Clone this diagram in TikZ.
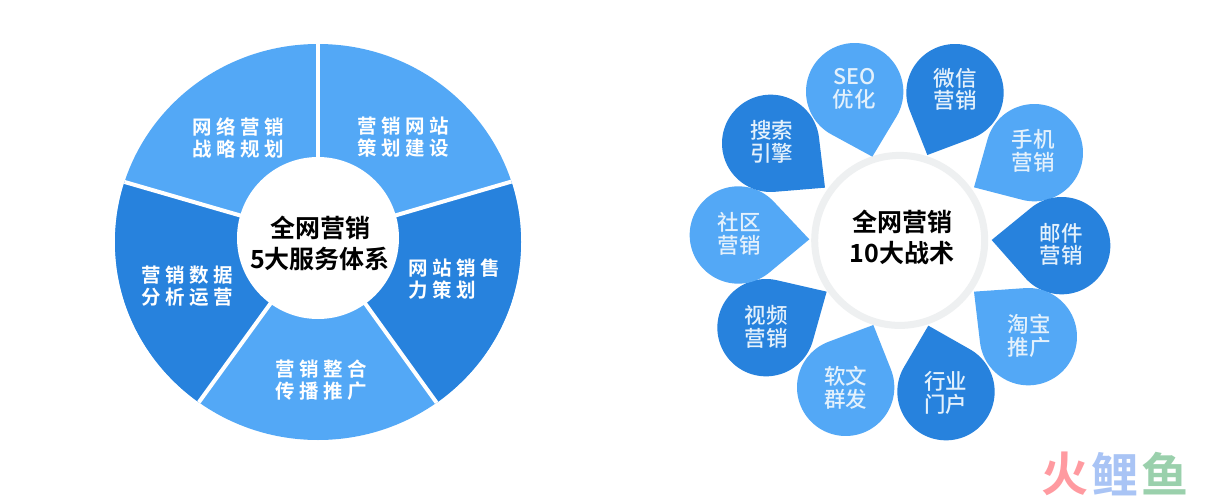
\documentclass[tikz,border=0pt]{standalone}
\usepackage{fontspec}
\setmainfont{Noto Sans CJK SC}[BoldFont={Noto Sans CJK SC Bold}]
\newfontfamily\spacedcjk{Noto Sans CJK SC Bold}[LetterSpace=23]
\newfontfamily\dropcjk{Noto Sans CJK SC Medium}
\definecolor{lightblue}{HTML}{53A8F6}
\definecolor{darkblue}{HTML}{2782DD}
\definecolor{ringgrey}{HTML}{EEF0F1}
\definecolor{palewhite}{HTML}{E4F1FC}
\definecolor{markred}{HTML}{FF9AA0}
\definecolor{markblue}{HTML}{A9C4F5}
\definecolor{markgreen}{HTML}{9AD0AC}
\tikzset{
  sectorlabel/.style={text=white,font=\spacedcjk\fontsize{19.5}{22}\selectfont,align=center,inner sep=0pt},
  sectorlabelleft/.style={sectorlabel,align=left},
  hubtext/.style={text=black,font=\bfseries\fontsize{25}{31}\selectfont,align=center,inner sep=0pt},
  droptext/.style={text=palewhite,font=\dropcjk\fontsize{21.5}{22.7}\selectfont,align=center,inner sep=0pt},
  marktext/.style={inner sep=0pt,font=\bfseries\fontsize{47}{47}\selectfont},
}
\newcommand{\dropshape}[6]{%
  \pgfmathsetmacro{\dang}{atan2(#5-#3,#4-#2)}
  \pgfmathsetmacro{\ddist}{veclen(#5-#3,#4-#2)}
  \pgfmathsetmacro{\dhalf}{acos(146/\ddist)}
  \pgfmathsetmacro{\dstart}{\dang+\dhalf}
  \pgfmathsetmacro{\dend}{\dang+360-\dhalf}
  \fill[#6] (#4,#5) -- plot[variable=\t,domain=\dstart:\dend,samples=80] ({#2+146*cos(\t)},{#3+146*sin(\t)}) -- cycle;
}
\begin{document}
\begin{tikzpicture}[x=1pt,y=-1pt]
\useasboundingbox (0,0) rectangle (1211,498);
\fill[white] (0,0) rectangle (1211,498);
% left wheel
\begin{scope}
  \clip (318,242) ellipse [x radius=203pt,y radius=198pt];
  \fill[lightblue] (100,0) rectangle (550,470);
  \fill[darkblue] (318,238) -- (606,154) -- (700,300) -- (493,481) -- cycle;
  \fill[darkblue] (318,238) -- (141,482) -- (-50,300) -- (28,154) -- cycle;
  \draw[white,line width=4pt] (318,238) -- (318,0);
  \draw[white,line width=4pt] (318,238) -- (606,154);
  \draw[white,line width=4pt] (318,238) -- (493,481);
  \draw[white,line width=4pt] (318,238) -- (141,482);
  \draw[white,line width=4pt] (318,238) -- (28,154);
\end{scope}
\fill[white] (318,238) circle [radius=81pt];
\node[hubtext] (hubL) at (320,243) {全网营销\\5大服务体系};
\node[sectorlabel] (s1) at (238.5,137.5) {网络营销\\战略规划};
\node[sectorlabel] (s2) at (403.5,137.5) {营销网站\\策划建设};
\node[sectorlabelleft,anchor=west] (s3) at (408,279) {网站销售\\力策划};
\node[sectorlabel] (s4) at (187.5,286) {营销数据\\分析运营};
\node[sectorlabel] (s5) at (321.5,380.5) {营销整合\\传播推广};
% right flower
\draw[ringgrey,fill=white,line width=7pt] (899.7,240.4) circle [radius=85pt];
\node[hubtext] (hubR) at (902,237) {全网营销\\10大战术};
\begin{scope}[shift={(680,30)},x=0.33333pt,y=-0.33333pt]
  \dropshape{d1}{524}{185}{577}{380}{lightblue}
  \dropshape{d2}{825}{188}{742}{375}{darkblue}
  \dropshape{d3}{1063}{368}{882}{472}{lightblue}
  \dropshape{d4}{1145}{647}{935}{630}{darkblue}
  \dropshape{d5}{1045}{920}{882}{785}{lightblue}
  \dropshape{d6}{798}{1085}{745}{887}{darkblue}
  \dropshape{d7}{497}{1072}{580}{885}{lightblue}
  \dropshape{d8}{258}{893}{440}{785}{darkblue}
  \dropshape{d9}{175}{615}{388}{628}{lightblue}
  \dropshape{d10}{272}{340}{435}{473}{darkblue}
  \node[droptext] (t1) at (523,176) {SEO\\优化};
  \node[droptext] (t2) at (825,178) {微信\\营销};
  \node[droptext] (t3) at (1060,363) {手机\\营销};
  \node[droptext] (t4) at (1143,643) {邮件\\营销};
  \node[droptext] (t5) at (1047,917) {淘宝\\推广};
  \node[droptext] (t6) at (797,1088) {行业\\门户};
  \node[droptext] (t7) at (497,1073) {软文\\群发};
  \node[droptext] (t8) at (258,891) {视频\\营销};
  \node[droptext] (t9) at (177,611) {社区\\营销};
  \node[droptext] (t10) at (275,336) {搜索\\引擎};
\end{scope}
% watermark
\node[marktext,text=markred] (w1) at (1065,474) {火};
\node[marktext,text=markblue] (w2) at (1115,474) {鲤};
\node[marktext,text=markgreen] (w3) at (1165,474) {鱼};
\end{tikzpicture}
\end{document}
